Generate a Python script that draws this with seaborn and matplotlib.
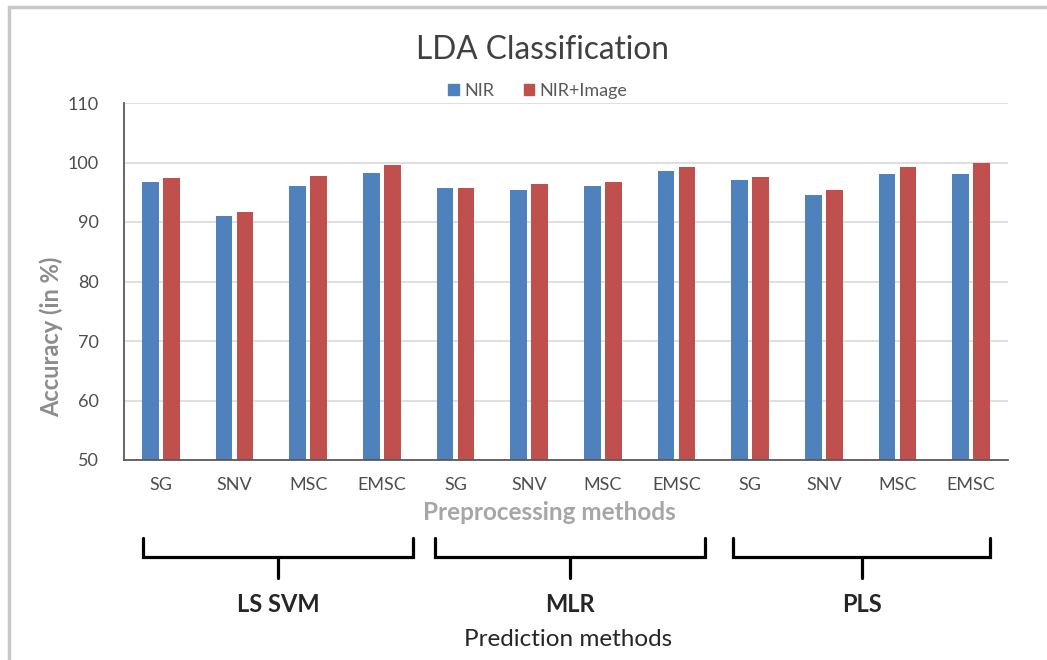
import matplotlib
matplotlib.use("Agg")
import matplotlib.pyplot as plt
import matplotlib.transforms as mtransforms
from matplotlib.patches import Rectangle
import seaborn as sns
import pandas as pd

# ---- data ----
prediction_methods = ["LS SVM", "MLR", "PLS"]
preprocessing = ["SG", "SNV", "MSC", "EMSC"]
nir = [96.7, 91.0, 96.0, 98.3, 95.7, 95.4, 96.0, 98.6, 97.0, 94.5, 98.0, 98.0]
nir_image = [97.4, 91.7, 97.7, 99.6, 95.7, 96.4, 96.7, 99.2, 97.6, 95.4, 99.2, 99.9]
series_names = ["NIR", "NIR+Image"]
y_ticks = [50, 60, 70, 80, 90, 100, 110]

labels = [f"{m} {p}" for m in prediction_methods for p in preprocessing]
tick_labels = [p for m in prediction_methods for p in preprocessing]
df = pd.DataFrame({
    "label": labels * 2,
    "value": nir + nir_image,
    "series": [series_names[0]] * len(labels) + [series_names[1]] * len(labels),
})

sns.set_theme(style="white")
plt.rcParams["font.family"] = ["Lato", "DejaVu Sans"]

W, H = 1047, 660
fig = plt.figure(figsize=(W / 100, H / 100), dpi=100)
ax = fig.add_axes([124 / W, 1 - 460 / H, (1008 - 124) / W, (460 - 103) / H])

blue, red = "#4F81BD", "#C0504D"
sns.barplot(data=df, x="label", y="value", hue="series", order=labels,
            palette=[blue, red], width=0.57, gap=0.2, ax=ax, legend=False,
            linewidth=0, saturation=1)

ax.set_ylim(50, 110)
ax.set_yticks(y_ticks)
ax.set_xlim(-0.5, len(labels) - 0.5)
ax.set_xticks(range(len(labels)))
ax.set_xticklabels(tick_labels)
ax.yaxis.grid(True, color="#D9D9D9", linewidth=1.2)
ax.set_axisbelow(True)
for s in ["top", "right"]:
    ax.spines[s].set_visible(False)
for s in ["left", "bottom"]:
    ax.spines[s].set_color("#595959")
    ax.spines[s].set_linewidth(1.3)
ax.tick_params(axis="both", length=0, colors="#4D4D4D", labelsize=13)
ax.tick_params(axis="x", pad=12)
ax.tick_params(axis="y", pad=18)

ax.set_xlabel("")
ax.set_ylabel("Accuracy (in %)", fontsize=17, fontweight="bold", color="#8C8C8C")
ax.yaxis.set_label_coords(-0.069, 0.345)

# title and legend
fig.text(543 / W, 1 - 50 / H, "LDA Classification", ha="center", va="center",
         fontsize=22.8, color="#404040")
handles = [Rectangle((0, 0), 1, 1, color=blue), Rectangle((0, 0), 1, 1, color=red)]
fig.legend(handles, series_names, loc="center", bbox_to_anchor=(538 / W, 1 - 91 / H),
           ncol=2, frameon=False, fontsize=13, handlelength=0.6, handleheight=0.6,
           handletextpad=0.3, columnspacing=1.6, labelcolor="#595959")

# axis titles below
fig.text(549 / W, 1 - 512 / H, "Preprocessing methods", ha="center", va="center",
         fontsize=17.5, fontweight="bold", color="#A6A6A6")
fig.text(568 / W, 1 - 639 / H, "Prediction methods", ha="center", va="center",
         fontsize=17.5, color="#262626")

# brackets for prediction methods
trans = mtransforms.blended_transform_factory(ax.transData, fig.transFigure)
brackets = [(-0.24, 3.42), (3.72, 7.39), (7.77, 11.26)]
y_top, y_bar, y_tick = 1 - 538 / H, 1 - 557 / H, 1 - 578 / H
for (x0, x1), name in zip(brackets, prediction_methods):
    xc = (x0 + x1) / 2
    ax.plot([x0, x0, x1, x1], [y_top, y_bar, y_bar, y_top], color="black",
            linewidth=2.3, transform=trans, clip_on=False, solid_joinstyle="miter")
    ax.plot([xc, xc], [y_bar, y_tick], color="black", linewidth=2.3,
            transform=trans, clip_on=False)
    fig.text(xc, 1 - 605 / H, name, transform=trans, ha="center", va="center",
             fontsize=17, fontweight="bold", color="#262626")

# outer frame
fig.patches.append(Rectangle((9 / W, -0.05), 1.2, 1 - 7 / H + 0.05, transform=fig.transFigure,
                             fill=False, edgecolor="#C8C8C8", linewidth=2.5))

fig.savefig("out.png", dpi=100)
